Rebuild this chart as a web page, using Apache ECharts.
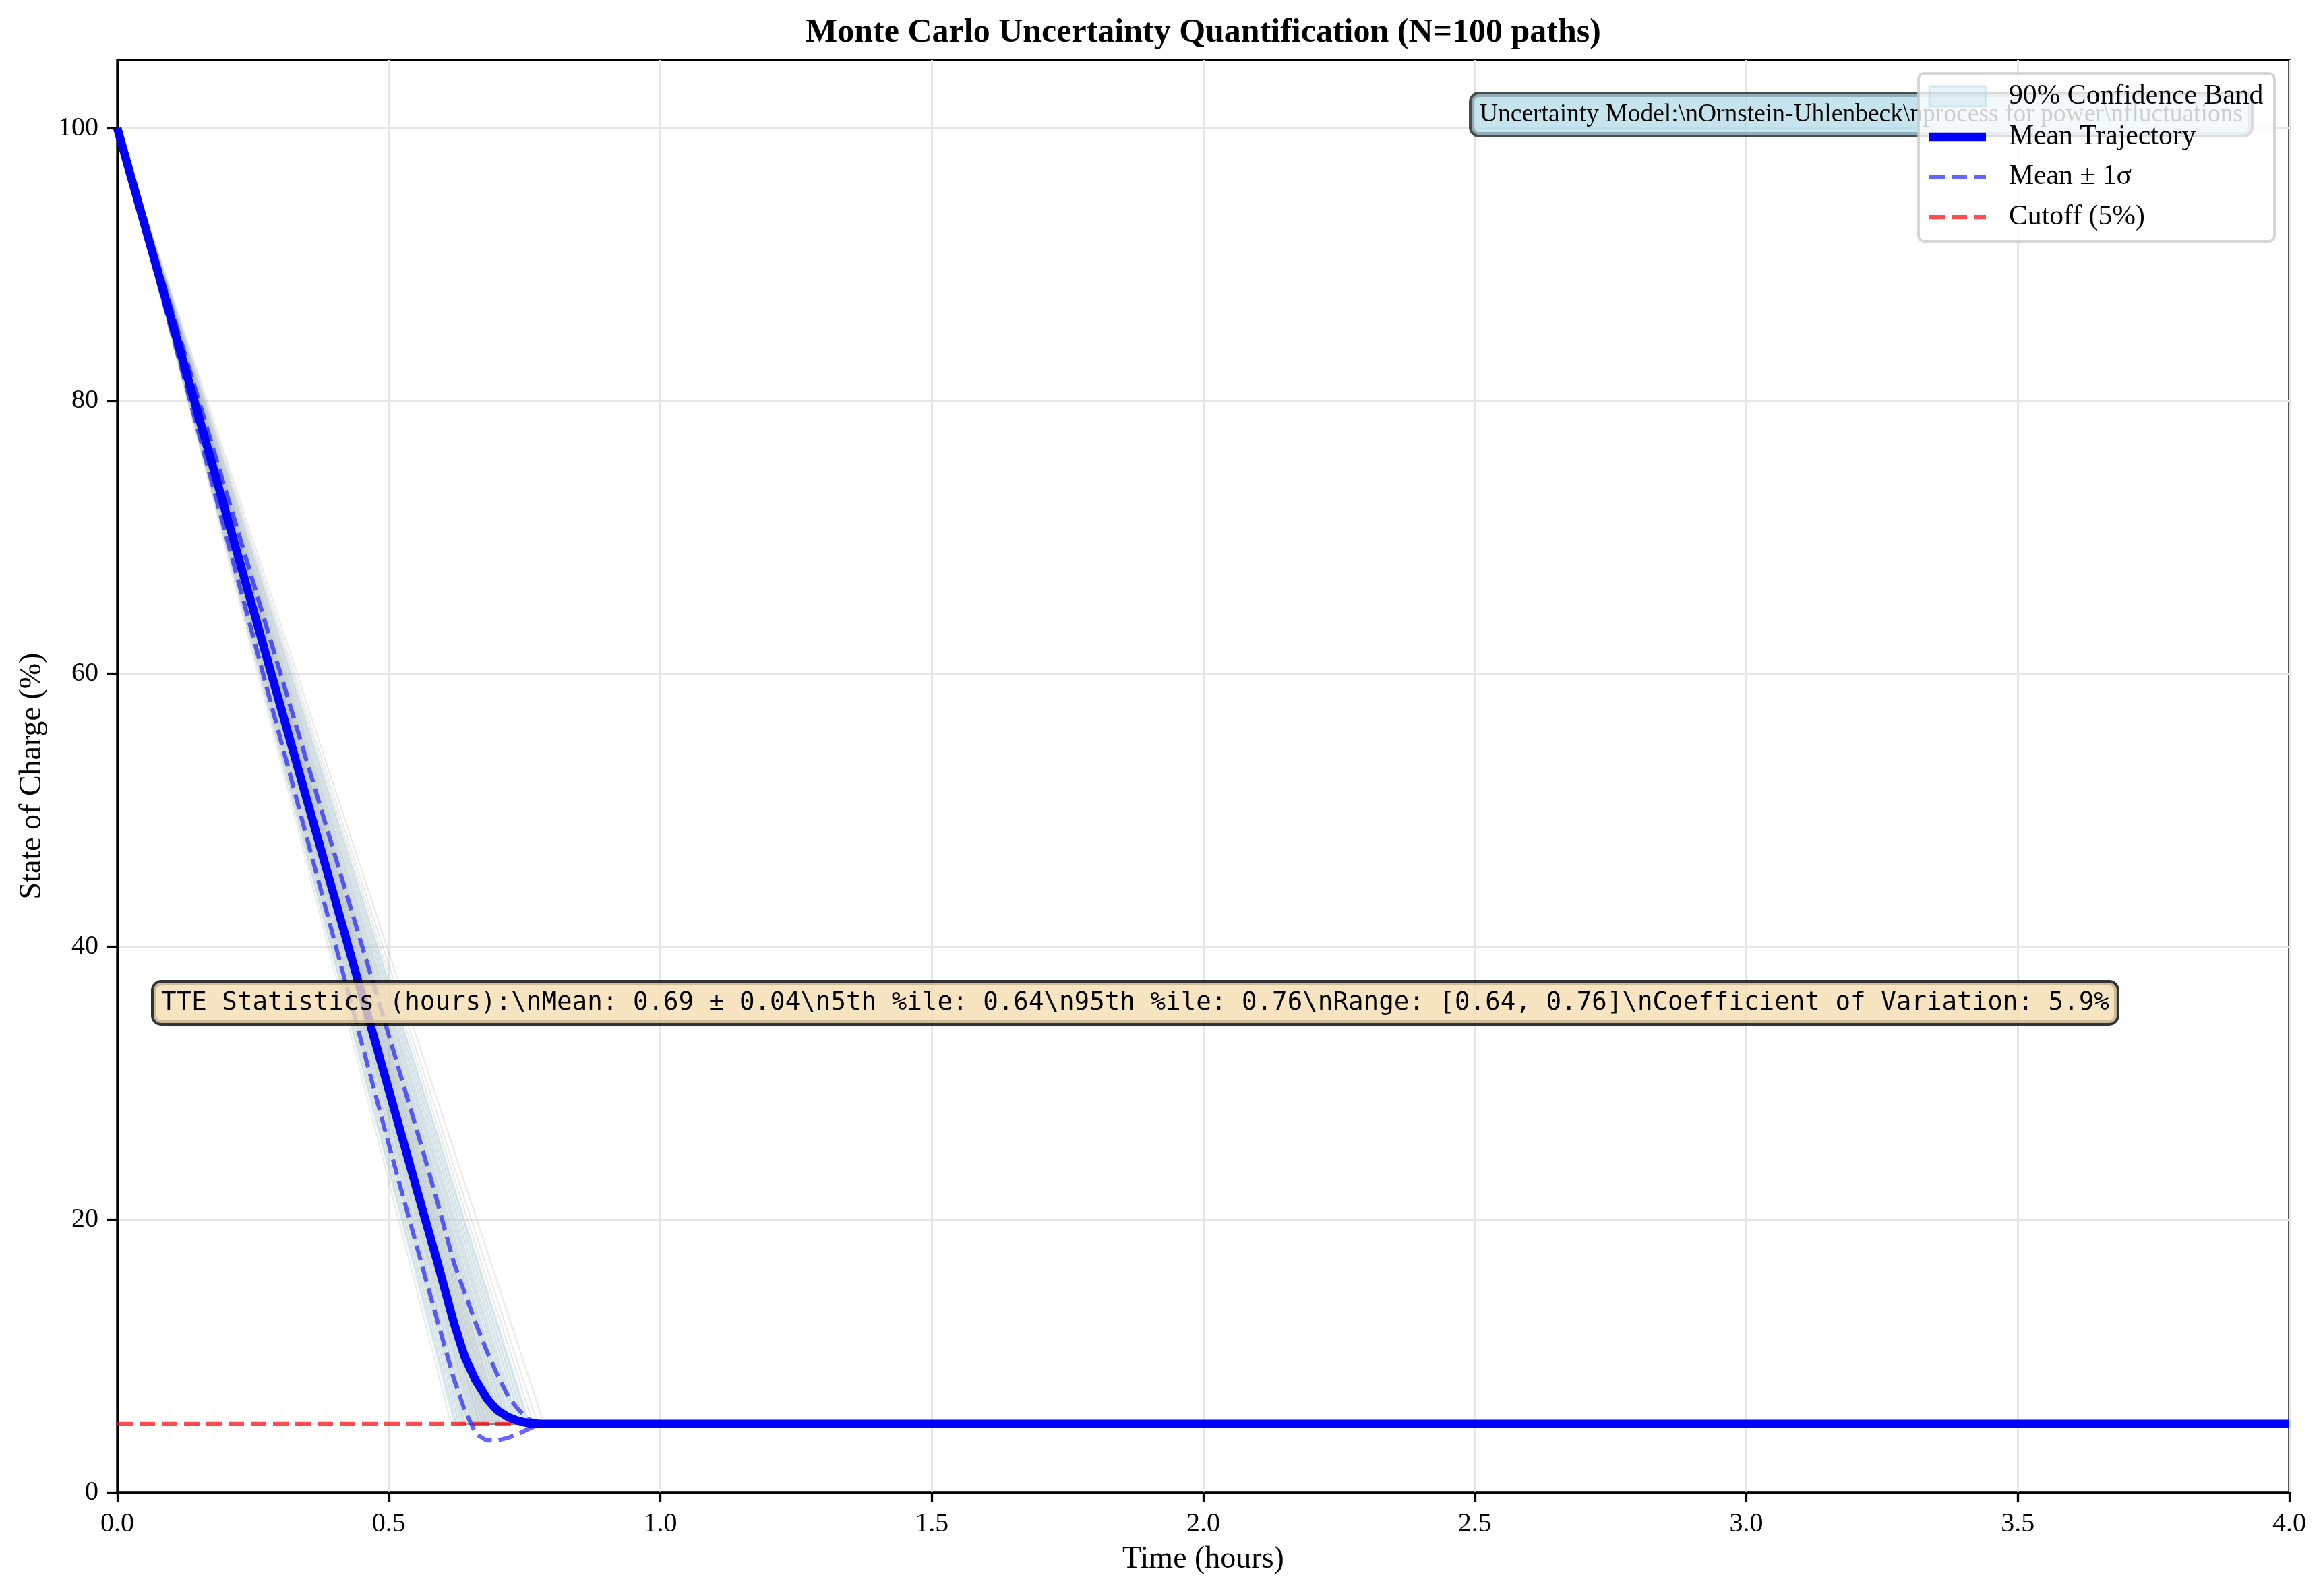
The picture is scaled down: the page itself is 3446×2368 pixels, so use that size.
<!DOCTYPE html>
<html><head><meta charset="utf-8">
<script src="https://cdn.jsdelivr.net/npm/echarts@6/dist/echarts.min.js"></script>
<style>html,body{margin:0;padding:0;background:#fff}#c{width:3446px;height:2368px}</style>
</head><body><div id="c"></div>
<script>
// ---- data ----
const TIME          = [0, 0.1, 0.2, 0.3, 0.4, 0.5, 0.56, 0.59, 0.62, 0.64, 0.66, 0.68, 0.70, 0.72, 0.74, 0.76, 0.78, 0.80, 1.0, 2.0, 3.0, 4.0];
const MEAN          = [100, 85.9, 71.8, 57.7, 43.6, 29.5, 21.0, 16.8, 12.4, 9.9, 8.2, 6.9, 6.0, 5.5, 5.2, 5.05, 5.0, 5.0, 5, 5, 5, 5];
const MEAN_MINUS_SD = [100, 85.1, 70.2, 55.3, 40.4, 25.5, 16.8, 12.5, 8.3, 6.0, 4.3, 3.8, 3.8, 4.0, 4.3, 4.7, 4.95, 5.0, 5, 5, 5, 5];
const MEAN_PLUS_SD  = [100, 86.7, 73.4, 60.1, 46.8, 33.5, 25.4, 21.2, 16.8, 14.6, 12.4, 10.4, 8.6, 7.0, 6.0, 5.3, 5.05, 5.0, 5, 5, 5, 5];
const P5            = [100, 84.7, 69.4, 54.1, 38.8, 23.5, 14.3, 9.7, 5.0, 5.0, 5.0, 5.0, 5.0, 5.0, 5.0, 5.0, 5.0, 5.0, 5, 5, 5, 5];
const P95           = [100, 87.5, 75.0, 62.5, 50.0, 37.5, 30.0, 26.3, 22.5, 20.0, 17.5, 15.0, 12.5, 10.0, 7.5, 5.0, 5.0, 5.0, 5, 5, 5, 5];
// time (h) at which each sampled path reaches the 5% floor
const PATH_TTE = [0.615, 0.624, 0.629, 0.634, 0.638, 0.641, 0.646, 0.648, 0.652, 0.655, 0.657, 0.660, 0.662, 0.665, 0.667, 0.668, 0.671, 0.673, 0.674, 0.677, 0.679, 0.680, 0.683, 0.684, 0.687, 0.688, 0.690, 0.693, 0.694, 0.696, 0.699, 0.700, 0.703, 0.705, 0.707, 0.711, 0.713, 0.717, 0.719, 0.723, 0.726, 0.731, 0.735, 0.739, 0.745, 0.751, 0.757, 0.766, 0.774, 0.786];
const PATH_START = 100;
const CUTOFF = 5;
const X_TICKS = [0, 0.5, 1.0, 1.5, 2.0, 2.5, 3.0, 3.5, 4.0];
const Y_TICKS = [0, 20, 40, 60, 80, 100];

const TITLE = 'Monte Carlo Uncertainty Quantification (N=100 paths)';
const MODEL_TEXT = 'Uncertainty Model:\\nOrnstein-Uhlenbeck\\nprocess for power\\nfluctuations';
const STATS_TEXT = 'TTE Statistics (hours):\\nMean: 0.69 \u00b1 0.04\\n5th %ile: 0.64\\n95th %ile: 0.76\\nRange: [0.64, 0.76]\\nCoefficient of Variation: 5.9%';
const LEGEND_NAMES = ['90% Confidence Band', 'Mean Trajectory', 'Mean \u00b1 1\u03c3', 'Cutoff (5%)'];

// ---- build ----
const SERIF = 'Liberation Serif';
const zip = (a, b) => a.map((v, i) => [v, b[i]]);
const bandPts = zip(TIME, P95).concat(zip(TIME, P5).reverse());

const series = [];
series.push({
  type: 'custom', name: LEGEND_NAMES[0], z: 1, silent: true,
  data: [0],
  renderItem: function (params, api) {
    const pts = bandPts.map(p => api.coord(p));
    return { type: 'polygon', shape: { points: pts },
      style: { fill: 'rgba(173,216,230,0.3)', stroke: 'rgba(173,216,230,0.3)', lineWidth: 2 } };
  }
});
PATH_TTE.forEach(function (tte) {
  series.push({
    type: 'line', z: 2, silent: true, showSymbol: false, symbol: 'none',
    data: [[0, PATH_START], [tte, CUTOFF], [X_TICKS[X_TICKS.length - 1], CUTOFF]],
    lineStyle: { color: 'rgba(128,128,128,0.17)', width: 2.2 }
  });
});
series.push({
  type: 'line', name: LEGEND_NAMES[3], z: 3, silent: true, symbol: 'none',
  data: [[X_TICKS[0], CUTOFF], [X_TICKS[X_TICKS.length - 1], CUTOFF]],
  lineStyle: { color: 'rgba(255,0,0,0.7)', width: 6.25, type: [23, 10] }
});
[MEAN_MINUS_SD, MEAN_PLUS_SD].forEach(function (arr) {
  series.push({
    type: 'line', name: LEGEND_NAMES[2], z: 4, silent: true, symbol: 'none',
    data: zip(TIME, arr),
    lineStyle: { color: 'rgba(0,0,255,0.6)', width: 6.25, type: [23, 10] }
  });
});
series.push({
  type: 'line', name: LEGEND_NAMES[1], z: 5, silent: true, symbol: 'none',
  data: zip(TIME, MEAN),
  lineStyle: { color: '#0000ff', width: 12.5, join: 'round', cap: 'butt' }
});

// graphic overlays: model box, stats box, then legend on top
const graphics = [
  { type: 'text', z: 100, style: { x: 2183, y: 140, text: MODEL_TEXT, fill: '#000',
    font: '37.5px "' + SERIF + '"', lineHeight: 38, align: 'left', verticalAlign: 'top',
    backgroundColor: 'rgba(173,216,230,0.7)', borderColor: 'rgba(0,0,0,0.7)', borderWidth: 4,
    borderRadius: 11, padding: [11, 12] } },
  { type: 'text', z: 100, style: { x: 228, y: 1458, text: STATS_TEXT, fill: '#000',
    font: '37.5px "DejaVu Sans Mono"', lineHeight: 38, align: 'left', verticalAlign: 'top',
    backgroundColor: 'rgba(245,222,179,0.8)', borderColor: 'rgba(0,0,0,0.8)', borderWidth: 4,
    borderRadius: 11, padding: [11, 11] } }
];
const LG = { x: 2846, y: 109, w: 528, h: 249, hx: 2862, hw: 84, tx: 2980, rows: [143, 203, 262, 322] };
graphics.push(
  { type: 'rect', z: 200, shape: { x: LG.x, y: LG.y, width: LG.w, height: LG.h, r: 8 },
    style: { fill: 'rgba(255,255,255,0.8)', stroke: 'rgba(204,204,204,0.8)', lineWidth: 4 } },
  { type: 'rect', z: 201, shape: { x: LG.hx, y: LG.rows[0] - 15, width: LG.hw, height: 30 },
    style: { fill: 'rgba(173,216,230,0.3)', stroke: 'rgba(173,216,230,0.45)', lineWidth: 3 } },
  { type: 'line', z: 201, shape: { x1: LG.hx, y1: LG.rows[1], x2: LG.hx + LG.hw, y2: LG.rows[1] },
    style: { stroke: '#0000ff', lineWidth: 12.5 } },
  { type: 'line', z: 201, shape: { x1: LG.hx, y1: LG.rows[2], x2: LG.hx + LG.hw, y2: LG.rows[2] },
    style: { stroke: 'rgba(0,0,255,0.6)', lineWidth: 6.25, lineDash: [23, 10] } },
  { type: 'line', z: 201, shape: { x1: LG.hx, y1: LG.rows[3], x2: LG.hx + LG.hw, y2: LG.rows[3] },
    style: { stroke: 'rgba(255,0,0,0.7)', lineWidth: 6.25, lineDash: [23, 10] } }
);
LEGEND_NAMES.forEach(function (n, i) {
  graphics.push({ type: 'text', z: 202, style: { x: LG.tx, y: LG.rows[i], text: n, fill: '#000',
    font: '41.7px "' + SERIF + '"', align: 'left', verticalAlign: 'middle' } });
});

const chart = echarts.init(document.getElementById('c'), null, { renderer: 'canvas' });
chart.setOption({
  animation: false,
  backgroundColor: '#ffffff',
  title: { text: TITLE, left: 1785, top: 24, textAlign: 'center', padding: 0,
    textStyle: { fontFamily: SERIF, fontWeight: 'bold', fontSize: 50, color: '#000' } },
  grid: { left: 174, right: 50, top: 89, bottom: 154, show: true, borderColor: '#000', borderWidth: 3.3, backgroundColor: 'transparent' },
  xAxis: {
    type: 'value', min: X_TICKS[0], max: X_TICKS[X_TICKS.length - 1], interval: 0.5,
    name: 'Time (hours)', nameLocation: 'middle', nameGap: 77,
    nameTextStyle: { fontFamily: SERIF, fontSize: 46, color: '#000' },
    axisLine: { show: true, onZero: false, lineStyle: { color: '#000', width: 3.3 } },
    axisTick: { show: true, inside: false, length: 15, lineStyle: { color: '#000', width: 3.3 } },
    axisLabel: { margin: 27, fontFamily: SERIF, fontSize: 40, color: '#000', formatter: v => v.toFixed(1) },
    splitLine: { show: true, lineStyle: { color: '#e6e6e6', width: 3 } }
  },
  yAxis: {
    type: 'value', min: 0, max: 105, interval: 20,
    name: 'State of Charge (%)', nameLocation: 'middle', nameGap: 103, nameRotate: 90,
    nameTextStyle: { fontFamily: SERIF, fontSize: 46, color: '#000' },
    axisLine: { show: true, onZero: false, lineStyle: { color: '#000', width: 3.3 } },
    axisTick: { show: true, inside: false, length: 15, customValues: Y_TICKS, lineStyle: { color: '#000', width: 3.3 } },
    axisLabel: { margin: 28, fontFamily: SERIF, fontSize: 40, color: '#000', customValues: Y_TICKS },
    splitLine: { show: true, lineStyle: { color: '#e6e6e6', width: 3 } }
  },
  series: series,
  graphic: graphics
});
</script>
</body></html>
